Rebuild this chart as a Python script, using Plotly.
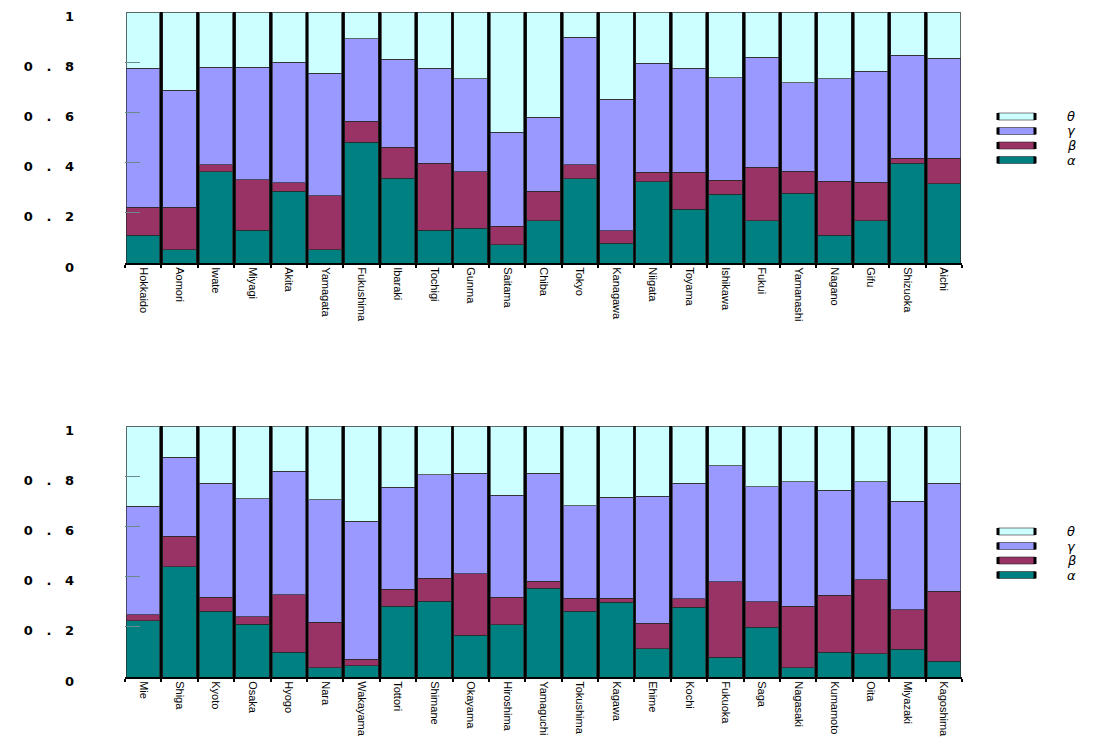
import plotly.graph_objects as go

top_cats = ["Hokkaido", "Aomori", "Iwate", "Miyagi", "Akita", "Yamagata", "Fukushima", "Ibaraki",
            "Tochigi", "Gunma", "Saitama", "Chiba", "Tokyo", "Kanagawa", "Niigata", "Toyama",
            "Ishikawa", "Fukui", "Yamanashi", "Nagano", "Gifu", "Shizuoka", "Aichi"]
bot_cats = ["Mie", "Shiga", "Kyoto", "Osaka", "Hyogo", "Nara", "Wakayama", "Tottori", "Shimane",
            "Okayama", "Hiroshima", "Yamaguchi", "Tokushima", "Kagawa", "Ehime", "Kochi", "Fukuoka",
            "Saga", "Nagasaki", "Kumamoto", "Oita", "Miyazaki", "Kagoshima"]

# cumulative tops
top_alpha = [0.111, 0.053, 0.364, 0.130, 0.286, 0.052, 0.481, 0.338, 0.131, 0.138, 0.072, 0.169,
             0.335, 0.078, 0.324, 0.215, 0.273, 0.168, 0.278, 0.111, 0.169, 0.397, 0.316]
top_beta_c = [0.222, 0.222, 0.391, 0.331, 0.319, 0.267, 0.564, 0.462, 0.397, 0.363, 0.146, 0.286,
              0.391, 0.128, 0.362, 0.362, 0.330, 0.382, 0.366, 0.326, 0.322, 0.417, 0.417]
top_gamma_c = [0.775, 0.688, 0.779, 0.779, 0.800, 0.755, 0.894, 0.811, 0.775, 0.735, 0.521, 0.580,
               0.899, 0.653, 0.795, 0.775, 0.739, 0.820, 0.719, 0.735, 0.764, 0.827, 0.815]

bot_alpha = [0.224, 0.440, 0.261, 0.211, 0.099, 0.036, 0.044, 0.282, 0.302, 0.167, 0.208, 0.354,
             0.261, 0.298, 0.113, 0.277, 0.078, 0.199, 0.036, 0.099, 0.093, 0.110, 0.062]
bot_beta_c = [0.248, 0.560, 0.317, 0.241, 0.328, 0.219, 0.070, 0.350, 0.394, 0.412, 0.318, 0.382,
              0.314, 0.314, 0.214, 0.312, 0.379, 0.300, 0.282, 0.326, 0.387, 0.268, 0.342]
bot_gamma_c = [0.680, 0.875, 0.772, 0.710, 0.820, 0.706, 0.621, 0.756, 0.805, 0.812, 0.725, 0.812,
               0.682, 0.716, 0.720, 0.772, 0.841, 0.757, 0.777, 0.745, 0.777, 0.700, 0.772]

series_names = ["α", "β", "γ", "θ"]
colors = ["#008080", "#993366", "#9999FF", "#CCFFFF"]
y_ticks = [0, 0.2, 0.4, 0.6, 0.8, 1]
sp = "\u00a0\u00a0\u00a0"
y_ticktext = ["0", f"0{sp}.{sp}2", f"0{sp}.{sp}4", f"0{sp}.{sp}6", f"0{sp}.{sp}8", "1"]


def parts(a, bc, gc):
    beta = [b - x for b, x in zip(bc, a)]
    gamma = [g - b for g, b in zip(gc, bc)]
    theta = [1 - g for g in gc]
    return [a, beta, gamma, theta]


fig = go.Figure()
for panel, (cats, vals) in enumerate([(top_cats, parts(top_alpha, top_beta_c, top_gamma_c)),
                                      (bot_cats, parts(bot_alpha, bot_beta_c, bot_gamma_c))]):
    xa = "x" if panel == 0 else "x2"
    ya = "y" if panel == 0 else "y2"
    for name, col, v in zip(series_names, colors, vals):
        fig.add_trace(go.Bar(
            x=cats, y=v, name=name, xaxis=xa, yaxis=ya, showlegend=False,
            marker=dict(color=col, line=dict(color="rgba(40,40,40,0.7)", width=1)),
        ))

# custom legends (paper coordinates), order top->bottom: theta, gamma, beta, alpha
W, H = 1107, 738
OFF = 8          # page body margin
ML, MR = 117, 153
PW = W - ML - MR


def px_x(px):
    return (px - OFF - ML) / PW


def px_y(py):
    return 1 - (py - OFF) / H


shapes = []
annotations = []
for centers in ([116.5, 131, 145.5, 160], [531.5, 546, 560.5, 575]):
    for cy, idx in zip(centers, [3, 2, 1, 0]):
        x0, x1 = px_x(998), px_x(1035)
        y0, y1 = px_y(cy + 3.5), px_y(cy - 3.5)
        shapes.append(dict(type="rect", xref="paper", yref="paper", x0=x0, x1=x1, y0=y0, y1=y1,
                           fillcolor=colors[idx], line=dict(color="rgba(40,40,40,0.6)", width=1)))
        for xe in (x0, x1):
            shapes.append(dict(type="line", xref="paper", yref="paper", x0=xe, x1=xe, y0=y0, y1=y1,
                               line=dict(color="black", width=3)))
        annotations.append(dict(xref="paper", yref="paper", x=px_x(1066), y=px_y(cy),
                                xanchor="left", yanchor="middle", showarrow=False,
                                text=series_names[idx], borderpad=0,
                                font=dict(family="DejaVu Sans", size=13, color="black", style="italic")))

axis_x = dict(type="category", tickson="boundaries", showgrid=True, gridcolor="black", gridwidth=3,
              ticks="outside", ticklen=3, tickcolor="black", tickwidth=2,
              showline=True, linecolor="black", linewidth=2, tickangle=90, automargin=False,
              tickfont=dict(family="Liberation Sans Narrow, Liberation Sans, Arial", size=11, color="black"),
              zeroline=False)
axis_y = dict(range=[0, 1], tickvals=y_ticks, ticktext=y_ticktext, showgrid=False, zeroline=False,
              ticks="inside", ticklen=15, tickcolor="#6a8a8a", tickwidth=1, automargin=False,
              showline=False, ticklabelstandoff=50, ticklabeloverflow="allow", ticklabelshift=4,
              tickfont=dict(family="DejaVu Sans, Arial", size=13, color="black", weight="bold"))

fig.update_layout(
    width=W, height=H,
    barmode="stack", bargap=0.08,
    plot_bgcolor="white", paper_bgcolor="white",
    margin=dict(l=ML, r=MR, t=0, b=0, autoexpand=False),
    xaxis=dict(axis_x, domain=[0, 1], anchor="y"),
    yaxis=dict(axis_y, domain=[px_y(263), px_y(12)], anchor="x"),
    xaxis2=dict(axis_x, domain=[0, 1], anchor="y2"),
    yaxis2=dict(axis_y, domain=[px_y(677), px_y(426)], anchor="x2"),
    shapes=shapes, annotations=annotations, showlegend=False,
)

fig.write_html("out.html")
